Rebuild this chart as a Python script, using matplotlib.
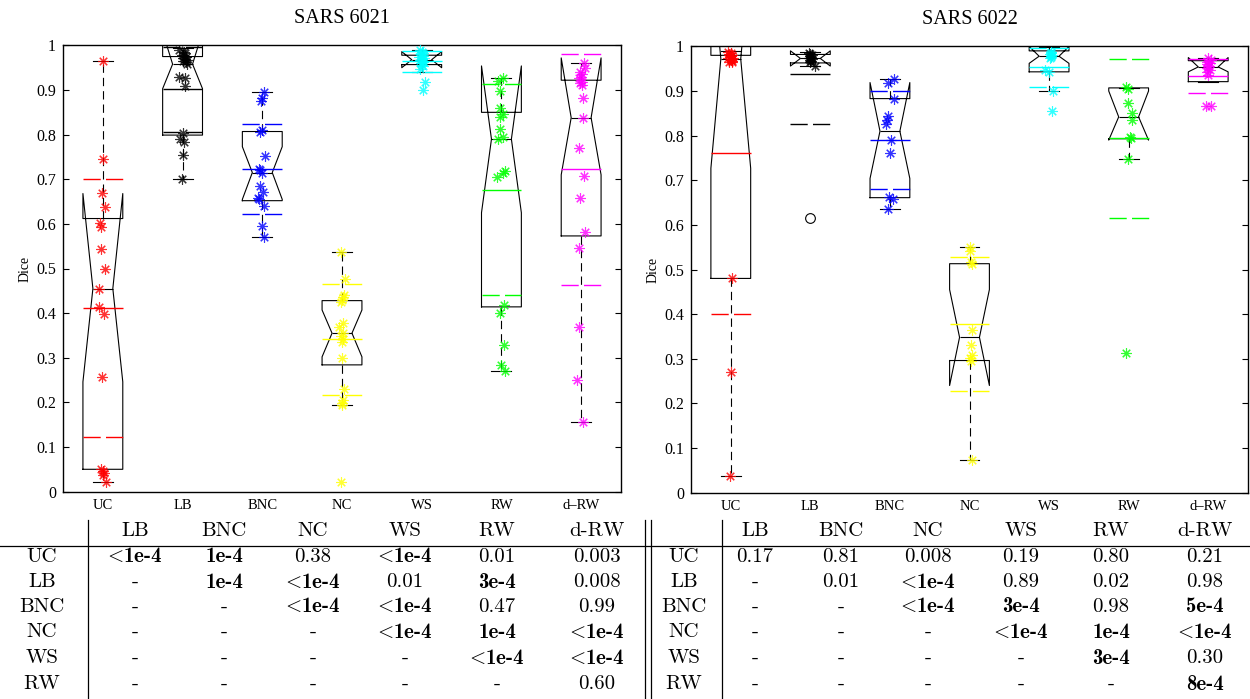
import numpy as np
import matplotlib.pyplot as plt

plt.rcParams['mathtext.fontset'] = 'cm'
plt.rcParams['font.family'] = ['Liberation Serif', 'DejaVu Serif']

groups = ['UC', 'LB', 'BNC', 'NC', 'WS', 'RW', 'd\u2013RW']
colors = ['#ff0000', '#000000', '#0000ff', '#ffff00', '#00ffff', '#00ff00', '#ff00ff']

# ---- SARS 6021 ----
a_vals = [
    [0.966, 0.745, 0.669, 0.638, 0.603, 0.594, 0.544, 0.500, 0.455, 0.413, 0.397, 0.256, 0.050, 0.047, 0.042, 0.037, 0.022],
    [0.990, 0.985, 0.982, 0.978, 0.975, 0.972, 0.970, 0.968, 0.965, 0.962, 0.958, 0.930, 0.928, 0.909, 0.804, 0.790, 0.784, 0.754, 0.700],
    [0.896, 0.881, 0.876, 0.811, 0.807, 0.752, 0.724, 0.721, 0.713, 0.685, 0.672, 0.659, 0.655, 0.639, 0.595, 0.571],
    [0.536, 0.476, 0.441, 0.437, 0.429, 0.425, 0.378, 0.369, 0.355, 0.349, 0.341, 0.336, 0.300, 0.231, 0.205, 0.199, 0.194, 0.021],
    [0.990, 0.986, 0.983, 0.980, 0.977, 0.975, 0.972, 0.970, 0.968, 0.966, 0.963, 0.960, 0.957, 0.953, 0.948, 0.919, 0.900],
    [0.926, 0.921, 0.897, 0.860, 0.846, 0.840, 0.812, 0.795, 0.790, 0.719, 0.714, 0.704, 0.418, 0.400, 0.329, 0.284, 0.271],
    [0.960, 0.949, 0.941, 0.937, 0.930, 0.927, 0.919, 0.915, 0.911, 0.881, 0.838, 0.769, 0.708, 0.659, 0.581, 0.547, 0.370, 0.250, 0.157],
]
a_jit = [
    [0.0, 0.0, -0.013, 0.03, -0.04, -0.02, -0.02, 0.03, -0.05, -0.05, 0.013, -0.013, -0.02, 0.0, 0.02, 0.0, 0.04],
    [-0.04, 0.02, 0.03, -0.01, 0.04, 0.0, 0.03, 0.05, 0.01, 0.04, 0.05, -0.04, 0.03, 0.03, 0.0, -0.03, 0.02, 0.0, -0.01],
    [0.017, -0.004, -0.013, -0.008, -0.025, 0.03, -0.042, -0.025, -0.004, -0.033, 0.008, -0.05, -0.042, 0.021, -0.008, 0.017],
    [-0.013, 0.04, 0.03, 0.017, 0.0, -0.013, 0.017, -0.033, 0.008, -0.013, 0.008, 0.0, 0.0, 0.03, 0.008, 0.0, 0.0, -0.013],
    [-0.02, 0.0, 0.02, -0.01, 0.01, -0.03, 0.03, 0.0, -0.02, 0.02, 0.01, -0.01, 0.0, 0.02, -0.02, 0.04, 0.02],
    [0.021, -0.042, -0.021, -0.013, 0.021, -0.021, -0.013, 0.021, -0.042, 0.042, 0.021, -0.05, 0.03, -0.021, 0.033, 0.0, 0.042],
    [0.03, 0.05, -0.013, 0.008, 0.0, -0.033, 0.008, -0.013, 0.008, 0.021, 0.021, -0.021, 0.03, -0.013, 0.05, -0.03, -0.033, -0.046, 0.021],
]
a_med = [0.455, 0.958, 0.715, 0.355, 0.968, 0.790, 0.838]
a_q1 = [0.050, 0.799, 0.652, 0.284, 0.957, 0.414, 0.573]
a_q3 = [0.612, 0.975, 0.807, 0.428, 0.978, 0.850, 0.922]
a_cilo = [0.246, 0.903, 0.655, 0.302, 0.950, 0.625, 0.710]
a_cihi = [0.668, 1.030, 0.773, 0.407, 0.986, 0.954, 0.972]
a_wlo = [0.022, 0.700, 0.571, 0.193, 0.940, 0.271, 0.157]
a_whi = [0.966, 0.995, 0.896, 0.536, 0.990, 0.926, 0.960]
a_fliers = [[], [], [], [], [], [], []]
a_mean = [0.411, 0.902, 0.723, 0.341, 0.964, 0.677, 0.722]
a_std = [0.289, 0.095, 0.100, 0.125, 0.024, 0.236, 0.259]

# ---- SARS 6022 ----
b_vals = [
    [0.988, 0.985, 0.982, 0.980, 0.978, 0.977, 0.975, 0.974, 0.972, 0.970, 0.968, 0.966, 0.964, 0.480, 0.270, 0.038],
    [0.985, 0.982, 0.980, 0.978, 0.977, 0.975, 0.973, 0.972, 0.970, 0.968, 0.966, 0.957],
    [0.928, 0.919, 0.882, 0.844, 0.835, 0.827, 0.790, 0.762, 0.663, 0.659, 0.635],
    [0.550, 0.542, 0.516, 0.512, 0.364, 0.331, 0.308, 0.301, 0.296, 0.073],
    [0.988, 0.985, 0.983, 0.981, 0.979, 0.977, 0.975, 0.947, 0.942, 0.900, 0.856],
    [0.909, 0.905, 0.874, 0.851, 0.836, 0.796, 0.794, 0.747, 0.313],
    [0.975, 0.970, 0.966, 0.963, 0.960, 0.957, 0.955, 0.952, 0.948, 0.943, 0.936, 0.866, 0.866],
]
b_jit = [
    [-0.03, 0.0, -0.02, 0.02, 0.0, -0.01, 0.03, -0.03, 0.01, 0.0, 0.02, -0.02, 0.01, 0.013, 0.007, -0.014],
    [-0.02, 0.0, 0.02, -0.01, 0.01, 0.0, -0.02, 0.02, 0.0, 0.01, -0.01, 0.06],
    [0.046, -0.03, 0.046, -0.03, -0.038, -0.05, 0.013, 0.004, -0.008, 0.042, -0.03],
    [0.0, 0.008, 0.021, 0.03, 0.03, 0.021, 0.033, 0.0, 0.021, 0.03],
    [0.02, 0.03, 0.01, 0.04, 0.02, 0.03, 0.01, -0.046, 0.0, 0.046, 0.033],
    [-0.033, -0.013, -0.013, 0.042, 0.042, 0.021, 0.033, -0.013, -0.033],
    [0.0, 0.03, -0.02, 0.02, -0.01, 0.01, 0.0, -0.02, 0.02, -0.01, 0.0, -0.03, 0.03],
]
b_med = [0.972, 0.973, 0.810, 0.348, 0.978, 0.842, 0.954]
b_q1 = [0.480, 0.963, 0.661, 0.296, 0.943, 0.793, 0.921]
b_q3 = [0.980, 0.982, 0.883, 0.513, 0.990, 0.907, 0.968]
b_cilo = [0.727, 0.956, 0.704, 0.240, 0.962, 0.790, 0.943]
b_cihi = [1.217, 0.990, 0.919, 0.455, 1.000, 0.900, 0.975]
b_wlo = [0.038, 0.957, 0.635, 0.073, 0.900, 0.747, 0.921]
b_whi = [0.990, 0.988, 0.927, 0.550, 0.998, 0.907, 0.975]
b_fliers = [[], [0.616], [], [], [], [], []]
b_mean = [0.762, 0.939, 0.790, 0.378, 0.953, 0.794, 0.934]
b_std = [0.361, 0.114, 0.109, 0.151, 0.044, 0.178, 0.038]

# ---- p-value tables ----
tab_cols = ['LB', 'BNC', 'NC', 'WS', 'RW', 'd-RW']
tab_rows = ['UC', 'LB', 'BNC', 'NC', 'WS', 'RW']
a_tab = [
    ['<1e-4', '1e-4', '0.38', '<1e-4', '0.01', '0.003'],
    ['-', '1e-4', '<1e-4', '0.01', '3e-4', '0.008'],
    ['-', '-', '<1e-4', '<1e-4', '0.47', '0.99'],
    ['-', '-', '-', '<1e-4', '1e-4', '<1e-4'],
    ['-', '-', '-', '-', '<1e-4', '<1e-4'],
    ['-', '-', '-', '-', '-', '0.60'],
]
b_tab = [
    ['0.17', '0.81', '0.008', '0.19', '0.80', '0.21'],
    ['-', '0.01', '<1e-4', '0.89', '0.02', '0.98'],
    ['-', '-', '<1e-4', '3e-4', '0.98', '5e-4'],
    ['-', '-', '-', '<1e-4', '1e-4', '<1e-4'],
    ['-', '-', '-', '-', '3e-4', '0.30'],
    ['-', '-', '-', '-', '-', '8e-4'],
]

W, H = 1250, 699
fig = plt.figure(figsize=(W / 100, H / 100), dpi=100)


def panel(rect, title, vals, jit, med, q1, q3, cilo, cihi, wlo, whi, fliers, mean, std):
    ax = fig.add_axes(rect)
    pos = np.arange(1, len(groups) + 1)
    stats = []
    for i in range(len(groups)):
        stats.append(dict(med=med[i], q1=q1[i], q3=q3[i], cilo=cilo[i], cihi=cihi[i],
                          whislo=wlo[i], whishi=whi[i], fliers=fliers[i]))
    ax.bxp(stats, positions=pos, widths=0.5, shownotches=True, showfliers=True,
           boxprops=dict(color='k', lw=0.8),
           medianprops=dict(color='k', lw=0.8),
           whiskerprops=dict(color='k', lw=0.8, linestyle=(0, (7.5, 4.5))),
           capprops=dict(color='k', lw=0.8),
           flierprops=dict(marker='o', mfc='none', mec='k', ms=7, mew=0.8))
    for i, p in enumerate(pos):
        c = colors[i]
        ax.hlines(mean[i], p - 0.25, p + 0.25, color=c, lw=1.0)
        for v in (mean[i] + std[i], mean[i] - std[i]):
            ax.plot([p - 0.25, p + 0.25], [v, v], color=c, lw=1.0, linestyle=(0, (12.4, 3.8)))
        ax.plot(p + np.array(jit[i]), vals[i], linestyle='none', marker=(8, 2, 0),
                ms=7.5, mew=0.8, color=c, alpha=0.8, zorder=4)
    ax.set_xlim(0.5, 7.5)
    ax.set_ylim(0, 1)
    ax.set_xticks(pos)
    ax.set_xticklabels(groups, fontsize=10.5)
    ax.tick_params(axis='x', length=0, pad=5)
    ax.set_yticks(np.arange(0, 1.01, 0.1))
    ax.set_yticklabels(['0'] + ['%.1f' % t for t in np.arange(0.1, 0.95, 0.1)] + ['1'], fontsize=11.5)
    ax.tick_params(axis='y', direction='in', length=4, width=0.8, left=True, right=True, pad=5)
    for s in ax.spines.values():
        s.set_linewidth(1.0)
    ax.set_ylabel('Dice', fontsize=10, labelpad=3)
    ax.set_title(title, fontsize=14.5, pad=16)
    return ax


panel([63 / W, 1 - 491.6 / H, 558 / W, 446.2 / H], 'SARS 6021',
      a_vals, a_jit, a_med, a_q1, a_q3, a_cilo, a_cihi, a_wlo, a_whi, a_fliers, a_mean, a_std)
panel([691 / W, 1 - 492.6 / H, 557 / W, 446.2 / H], 'SARS 6022',
      b_vals, b_jit, b_med, b_q1, b_q3, b_cilo, b_cihi, b_wlo, b_whi, b_fliers, b_mean, b_std)

# tables drawn on an overlay in pixel coordinates
tx = fig.add_axes([0, 0, 1, 1])
tx.set_xlim(0, W)
tx.set_ylim(H, 0)
tx.axis('off')

head_y = 531
row_y = [557, 582, 607, 632, 658, 684]
tx.plot([0, W], [546, 546], color='k', lw=0.9)
for xv in (88, 645, 651, 722):
    tx.plot([xv, xv], [520, H], color='k', lw=0.9)


def cell(x, y, s):
    bold = 'e-' in s
    fam = 'cmb10' if bold else 'cmr10'
    if s.startswith('<'):
        s = r'$\!\!<\!$' + s[1:]
    tx.text(x, y, s, ha='center', va='center', fontsize=15, family=fam)


def table(lab_x, col_x, tab):
    for j, c in enumerate(tab_cols):
        tx.text(col_x[j], head_y, c, ha='center', va='center', fontsize=15, family='cmr10')
    for i, r in enumerate(tab_rows):
        tx.text(lab_x, row_y[i], r, ha='center', va='center', fontsize=15, family='cmr10')
        for j in range(len(tab_cols)):
            cell(col_x[j], row_y[i], tab[i][j])


table(42, [135, 224, 313, 405, 497, 597], a_tab)
table(684, [755, 841, 928, 1021, 1111, 1205], b_tab)

fig.savefig('out.png', dpi=100)
